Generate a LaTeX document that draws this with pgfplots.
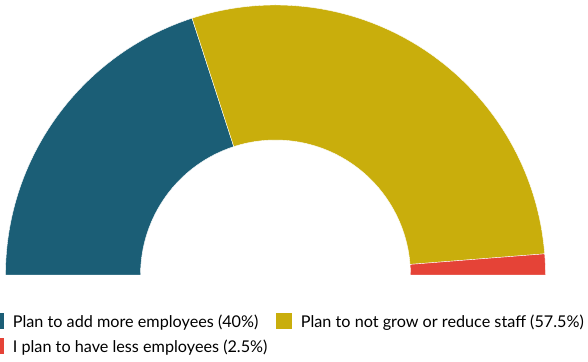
\documentclass[border=0pt]{standalone}
\usepackage{pgfplots}
\pgfplotsset{compat=1.18}
\usepackage{pgfplotstable}
\usetikzlibrary{calc}
\usepackage{fontspec}
\setmainfont{Lato}
\definecolor{cblue}{HTML}{1B5E76}
\definecolor{cgold}{HTML}{C9AE0C}
\definecolor{cred}{HTML}{E54337}
\pgfplotstableread{
share
40
57.5
2.5
}\shares
\pgfplotstablegetelem{0}{share}\of\shares \let\sA\pgfplotsretval
\pgfplotstablegetelem{1}{share}\of\shares \let\sB\pgfplotsretval
\pgfplotstablegetelem{2}{share}\of\shares \let\sC\pgfplotsretval
\pgfmathsetmacro\aA{180}
\pgfmathsetmacro\aB{180-1.8*\sA}
\pgfmathsetmacro\aC{\aB-1.8*\sB}
\pgfmathsetmacro\aD{\aC-1.8*\sC}
\begin{document}
\begin{tikzpicture}
\clip (0,0) rectangle (588pt,361pt);
\begin{axis}[at={(0,0)}, anchor=south west, scale only axis, x=1pt, y=1pt,
  xmin=0, xmax=588, ymin=0, ymax=361, hide axis, clip=false]
\fill[cblue, draw=white, line width=0.4pt] ($(axis cs:275.5,86)+(\aA:270pt)$) arc[start angle=\aA, end angle=\aB, radius=270pt] -- ($(axis cs:275.5,86)+(\aB:135pt)$) arc[start angle=\aB, end angle=\aA, radius=135pt] -- cycle;
\fill[cgold, draw=white, line width=0.4pt] ($(axis cs:275.5,86)+(\aB:270pt)$) arc[start angle=\aB, end angle=\aC, radius=270pt] -- ($(axis cs:275.5,86)+(\aC:135pt)$) arc[start angle=\aC, end angle=\aB, radius=135pt] -- cycle;
\fill[cred, draw=white, line width=0.4pt] ($(axis cs:275.5,86)+(\aC:270pt)$) arc[start angle=\aC, end angle=\aD, radius=270pt] -- ($(axis cs:275.5,86)+(\aD:135pt)$) arc[start angle=\aD, end angle=\aC, radius=135pt] -- cycle;
\end{axis}
\fill[cblue] (-12pt,32pt) rectangle (4pt,48pt);
\fill[cgold] (276pt,32pt) rectangle (292pt,48pt);
\fill[cred] (-12pt,7pt) rectangle (4pt,23pt);
\node[anchor=base west, inner sep=0pt, font=\fontsize{16.2pt}{19pt}\selectfont] at (12.7pt,34pt) {Plan to add more employees (40\%)};
\node[anchor=base west, inner sep=0pt, font=\fontsize{16.2pt}{19pt}\selectfont] at (300.7pt,34pt) {Plan to not grow or reduce staff (57.5\%)};
\node[anchor=base west, inner sep=0pt, font=\fontsize{16.2pt}{19pt}\selectfont] at (12.7pt,9pt) {I plan to have less employees (2.5\%)};
\end{tikzpicture}
\end{document}
